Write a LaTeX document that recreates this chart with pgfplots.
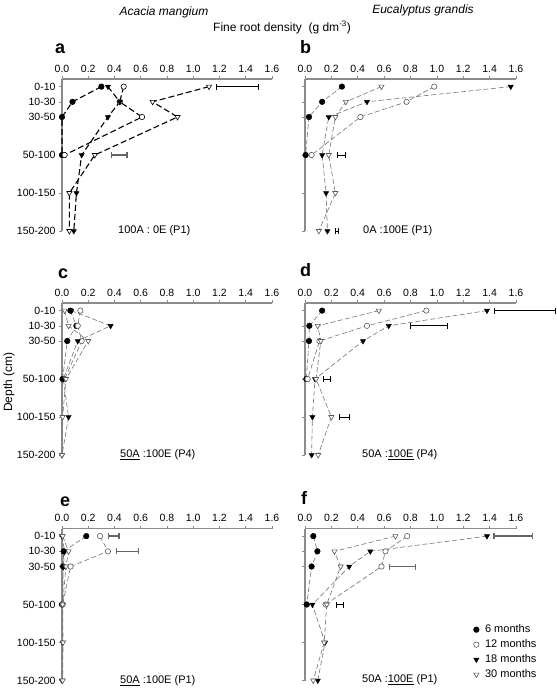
\documentclass[border=0pt]{standalone}
\usepackage{fontspec}
\setmainfont{Liberation Sans}
\usepackage{pgfplots}
\pgfplotsset{compat=1.18}
\usetikzlibrary{arrows.meta}

\definecolor{axgray}{gray}{0.55}
\definecolor{lngray}{gray}{0.45}
\definecolor{bargray}{gray}{0.4}
\definecolor{mkgray}{gray}{0.35}

\pgfplotsset{
  panel/.style={
    scale only axis, width=210pt, height=152pt,
    xmin=0, xmax=1.6, ymin=0, ymax=200, y dir=reverse,
    axis x line*=top, axis y line*=left,
    axis line style={axgray, line width=1.3pt},
    xtick={0,0.2,0.4,0.6,0.8,1.0,1.2,1.4,1.6},
    ytick={10,30,50,100,150,200},
    tick style={axgray, line width=0.6pt},
    major tick length=3pt,
    tick align=outside,
    xticklabel style={/pgf/number format/.cd, fixed, fixed zerofill, precision=1, assume math mode=true},
    tick label style={font=\fontsize{10.5}{12}\selectfont, text=black},
    clip=false,
    anchor=north west,
  },
  leftp/.style={panel, yticklabels={0-10,10-30,30-50,50-100,100-150,150-200}},
  rightp/.style={panel, width=211pt, yticklabels={}},
  lna/.style={black, line width=1.1pt, dash pattern=on 6pt off 3pt},
  lnb/.style={lngray, line width=0.6pt, dash pattern=on 5pt off 2.5pt},
  m6/.style={mark=*, mark size=2.8pt, mark options={solid, fill=black, draw=black, line width=0.5pt}},
  m12/.style={mark=*, mark size=2.7pt, mark options={solid, fill=white, draw=#1, line width=0.6pt}},
  m12/.default=mkgray,
  m18/.style={mark=triangle*, mark size=3pt, mark options={solid, rotate=180, fill=black, draw=black, line width=0.5pt}},
  m30/.style={mark=triangle*, mark size=3pt, mark options={solid, rotate=180, fill=white, draw=#1, line width=0.6pt}},
  m30/.default=mkgray,
  eb/.style={black, solid, line width=1pt, no markers, {Bar[width=6pt]}-{Bar[width=6pt]}},
  ebg/.style={bargray, solid, line width=1.4pt, no markers, {Bar[width=6pt]}-{Bar[width=6pt]}},
}

\begin{document}
\begin{tikzpicture}
\path (0pt,0pt) rectangle (555pt,-689pt);

% titles
\node[font=\fontsize{12}{14}\selectfont\itshape, anchor=base, inner sep=0] at (164pt,-15pt) {Acacia mangium};
\node[font=\fontsize{12}{14}\selectfont\itshape, anchor=base, inner sep=0] at (423pt,-13pt) {Eucalyptus grandis};
\node[font=\fontsize{12}{14}\selectfont, anchor=base west, inner sep=0] at (213pt,-31pt) {Fine root density\ \ (g dm\textsuperscript{-3})};
\node[font=\fontsize{12}{14}\selectfont, rotate=90, inner sep=0] at (9pt,-382pt) {Depth (cm)};

% panel letters
\node[font=\fontsize{18}{18}\selectfont\bfseries, anchor=base west, inner sep=0] at (55pt,-53pt) {a};
\node[font=\fontsize{18}{18}\selectfont\bfseries, anchor=base west, inner sep=0] at (300pt,-53pt) {b};
\node[font=\fontsize{18}{18}\selectfont\bfseries, anchor=base west, inner sep=0] at (58pt,-278pt) {c};
\node[font=\fontsize{18}{18}\selectfont\bfseries, anchor=base west, inner sep=0] at (300pt,-276pt) {d};
\node[font=\fontsize{18}{18}\selectfont\bfseries, anchor=base west, inner sep=0] at (60pt,-506pt) {e};
\node[font=\fontsize{18}{18}\selectfont\bfseries, anchor=base west, inner sep=0] at (301pt,-504pt) {f};

% panel annotations
\node[font=\fontsize{11}{13}\selectfont, anchor=west, inner sep=0] at (118pt,-231pt) {100A : 0E (P1)};
\node[font=\fontsize{11}{13}\selectfont, anchor=west, inner sep=0] at (363pt,-231pt) {0A :100E (P1)};
\node[font=\fontsize{11}{13}\selectfont, anchor=west, inner sep=0] at (120pt,-455pt) {\underline{50A} :100E (P4)};
\node[font=\fontsize{11}{13}\selectfont, anchor=west, inner sep=0] at (362pt,-455pt) {50A :\underline{100E} (P4)};
\node[font=\fontsize{11}{13}\selectfont, anchor=west, inner sep=0] at (120pt,-681pt) {\underline{50A} :100E (P1)};
\node[font=\fontsize{11}{13}\selectfont, anchor=west, inner sep=0] at (362pt,-680pt) {50A :\underline{100E} (P1)};

% ---------------- a ----------------
\begin{axis}[leftp, at={(62pt,-79pt)}]
\addplot[lna, m6] coordinates {(0.30,10) (0.08,30) (0.0,50) (0.0,100)};
\addplot[lna, m12=black] coordinates {(0.47,10) (0.44,30) (0.61,50) (0.02,100)};
\addplot[lna, m18] coordinates {(0.35,10) (0.44,30) (0.35,50) (0.15,100) (0.11,150) (0.09,200)};
\addplot[lna, m30=black] coordinates {(1.12,10) (0.69,30) (0.88,50) (0.25,100) (0.056,150) (0.056,200)};
\addplot[eb] coordinates {(1.17,10) (1.50,10)};
\addplot[ebg] coordinates {(0.37,100) (0.50,100)};
\end{axis}

% ---------------- b ----------------
\begin{axis}[rightp, at={(305pt,-79pt)}]
\addplot[lnb, m6] coordinates {(0.28,10) (0.13,30) (0.03,50) (0.005,100)};
\addplot[lnb, m12] coordinates {(0.98,10) (0.77,30) (0.42,50) (0.05,100)};
\addplot[lnb, m18] coordinates {(1.56,10) (0.47,30) (0.18,50) (0.13,100) (0.16,150) (0.17,200)};
\addplot[lnb, m30] coordinates {(0.58,10) (0.31,30) (0.23,50) (0.18,100) (0.23,150) (0.105,200)};
\addplot[eb] coordinates {(0.24,100) (0.31,100)};
\addplot[eb] coordinates {(0.23,200) (0.26,200)};
\end{axis}

% ---------------- c ----------------
\begin{axis}[leftp, at={(62pt,-303pt)}]
\addplot[lnb, m6] coordinates {(0.064,10) (0.11,30) (0.04,50) (0.005,100)};
\addplot[lnb, m12] coordinates {(0.14,10) (0.12,30) (0.15,50) (0.02,100)};
\addplot[lnb, m18] coordinates {(0.07,10) (0.37,30) (0.12,50) (0.01,100) (0.05,150) (0.0,200)};
\addplot[lnb, m30] coordinates {(0.02,10) (0.05,30) (0.20,50) (0.03,100) (0.005,150) (0.0,200)};
\end{axis}

% ---------------- d ----------------
\begin{axis}[rightp, at={(305pt,-303pt)}]
\addplot[lnb, m6] coordinates {(0.13,10) (0.033,30) (0.03,50) (0.01,100)};
\addplot[lnb, m12] coordinates {(0.92,10) (0.47,30) (0.11,50) (0.02,100)};
\addplot[lnb, m18] coordinates {(1.38,10) (0.635,30) (0.44,50) (0.076,100) (0.056,150) (0.05,200)};
\addplot[lnb, m30] coordinates {(0.56,10) (0.097,30) (0.12,50) (0.084,100) (0.20,150) (0.10,200)};
\addplot[eb] coordinates {(1.435,10) (1.90,10)};
\addplot[eb] coordinates {(0.795,30) (1.085,30)};
\addplot[eb] coordinates {(0.135,100) (0.196,100)};
\addplot[eb] coordinates {(0.26,150) (0.34,150)};
\end{axis}

% ---------------- e ----------------
\begin{axis}[leftp, at={(62pt,-528.5pt)}]
\addplot[lnb, m6] coordinates {(0.185,10) (0.013,30) (0.008,50) (0.0,100)};
\addplot[lnb, m12] coordinates {(0.29,10) (0.35,30) (0.065,50) (0.005,100)};
\addplot[lnb, m18] coordinates {(0.0,10) (0.02,30) (0.01,50) (0.005,100) (0.005,150) (0.0,200)};
\addplot[lnb, m30] coordinates {(0.005,10) (0.05,30) (0.03,50) (0.005,100) (0.008,150) (0.005,200)};
\addplot[ebg] coordinates {(0.35,10) (0.44,10)};
\addplot[ebg] coordinates {(0.41,30) (0.59,30)};
\end{axis}

% ---------------- f ----------------
\begin{axis}[rightp, at={(305pt,-528.5pt)},
  legend style={at={(axis cs:1.27,124)}, anchor=north west, draw=none, fill=none,
    font=\fontsize{11}{12}\selectfont, row sep=1.5pt, inner sep=0pt, nodes={inner sep=2pt}},
  legend cell align=left,
  legend image code/.code={\draw[#1] plot coordinates {(0pt,0pt)}; \path (-3.5pt,0pt) (6.5pt,0pt);}]
\addlegendimage{m6}\addlegendentry{6 months}
\addlegendimage{m12}\addlegendentry{12 months}
\addlegendimage{m18}\addlegendentry{18 months}
\addlegendimage{m30}\addlegendentry{30 months}
\addplot[lnb, m6, forget plot] coordinates {(0.063,10) (0.094,30) (0.05,50) (0.013,100)};
\addplot[lnb, m12, forget plot] coordinates {(0.775,10) (0.61,30) (0.58,50) (0.157,100)};
\addplot[lnb, m18, forget plot] coordinates {(1.38,10) (0.495,30) (0.335,50) (0.056,100) (0.152,150) (0.097,200)};
\addplot[lnb, m30, forget plot] coordinates {(0.686,10) (0.223,30) (0.27,50) (0.165,100) (0.145,150) (0.063,200)};
\addplot[ebg, forget plot] coordinates {(1.427,10) (1.73,10)};
\addplot[ebg, forget plot] coordinates {(0.635,50) (0.843,50)};
\addplot[eb, forget plot] coordinates {(0.234,100) (0.292,100)};
\end{axis}
\end{tikzpicture}
\end{document}
